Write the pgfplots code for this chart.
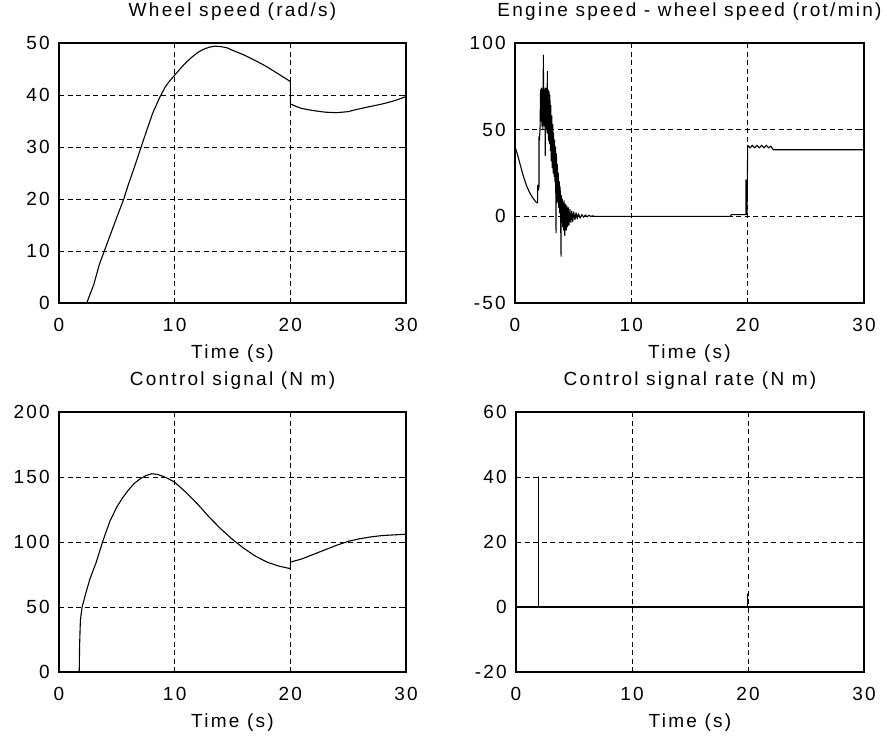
\documentclass[border=0pt]{standalone}
\usepackage{fontspec}
\setmainfont{Liberation Sans}[LetterSpace=12]
\usepackage{pgfplots}
\pgfplotsset{compat=1.18}

\pgfplotsset{matlab/.style={
  scale only axis, height=260pt,
  xmin=0, xmax=30, xtick={0,10,20,30},
  grid=major,
  major grid style={black, line width=0.9pt, dash pattern=on 5pt off 3.5pt},
  axis line style={black, line width=1.4pt},
  tick align=inside, major tick length=5pt,
  tick style={black, line width=1pt},
  /pgf/number format/assume math mode=true,
  every tick label/.append style={font=\fontsize{19}{22}\selectfont, inner sep=0pt},
  xticklabel style={anchor=base, yshift=-28pt},
  yticklabel style={anchor=east, xshift=-9pt},
  title style={font=\fontsize{19}{22}\selectfont, at={(0.5,1)}, anchor=base, inner sep=0pt, yshift=21pt},
  xlabel style={font=\fontsize{19}{22}\selectfont, at={(axis description cs:0.5,0)}, anchor=base, inner sep=0pt, yshift=-55pt},
  xlabel={Time (s)},
}}
\tikzset{curve/.style={black, mark=none, line width=1.1pt, line join=round}}

\begin{document}
\begin{tikzpicture}
\path[use as bounding box] (0,0) rectangle (887pt,-739pt);

% Top-left: wheel speed
\begin{axis}[matlab, width=347pt, at={(59pt,-303pt)}, anchor=south west,
  ymin=0, ymax=50, ytick={0,10,20,30,40,50},
  title={Wheel speed (rad/s)}]
\addplot[curve] coordinates {
(2.4,0) (2.6,1.2) (3.0,3.5) (3.5,7.5) (4.0,10.5) (4.5,13.5) (5.0,16.5)
(5.6,20) (6.0,22.8) (6.5,26) (7.1,30) (7.6,33.3) (8.1,36.5) (8.7,39.5)
(9.2,41.6) (9.6,42.8) (10.0,43.8) (10.5,45.1) (11.0,46.3) (11.5,47.3) (12.0,48.2)
(12.5,48.8) (13.0,49.2) (13.5,49.4) (14.0,49.3) (14.5,49.1) (15.0,48.6)
(16.0,47.7) (17.0,46.6) (18.0,45.4) (19.0,44.0) (20.0,42.6) (20.0,38.3)
(20.5,37.8) (21.0,37.4) (22.0,37.0) (23.0,36.7) (24.0,36.6) (25.0,36.8)
(25.5,37.1) (26.5,37.6) (28.0,38.3) (29.0,38.9) (30.0,39.7)
};
\end{axis}

% Top-right: engine speed - wheel speed
\begin{axis}[matlab, width=349pt, at={(515pt,-303pt)}, anchor=south west,
  ymin=-50, ymax=100, ytick={-50,0,50,100},
  title={Engine speed - wheel speed (rot/min)}]
\addplot[curve] coordinates {
(0,40) (0.2,36) (0.4,31) (0.6,26) (0.8,21.5) (1.0,17.5) (1.2,14.5) (1.4,12)
(1.6,10) (1.8,8.3) (1.95,7.7) (1.95,18) (2.0,15) (2.06,17) (2.06,46) (2.1,44)
(2.15,50) (2.2,73) (2.24,55) (2.28,74) (2.32,52) (2.36,73) (2.40,50) (2.44,93)
(2.46,55) (2.50,74) (2.54,52) (2.58,73) (2.60,35) (2.64,74) (2.68,50) (2.72,73)
(2.76,48) (2.78,83.5) (2.80,48) (2.84,73) (2.88,44) (2.92,72) (2.96,42) (3.0,70)
(3.04,38) (3.08,64) (3.12,32) (3.16,58) (3.20,28) (3.24,53) (3.28,25) (3.32,48)
(3.36,23) (3.40,44) (3.44,20) (3.48,40) (3.53,-9.5) (3.56,36) (3.60,11) (3.64,30)
(3.68,8) (3.72,25) (3.76,5) (3.80,20) (3.84,2) (3.88,17) (3.92,0) (3.96,-23)
(3.98,12) (4.02,-3) (4.06,10) (4.10,-6) (4.14,8) (4.18,-8) (4.22,9) (4.28,-11)
(4.34,7) (4.40,-8) (4.46,6) (4.52,-6) (4.58,5) (4.64,-5) (4.72,4) (4.80,-3.5)
(4.88,3) (4.96,-3) (5.05,2.5) (5.15,-2) (5.25,2) (5.35,-1.5) (5.45,1.5) (5.6,-1)
(5.75,1) (5.9,-0.5) (6.05,0.8) (6.2,-0.3) (6.35,0.6) (6.5,0) (6.7,0.3) (6.8,0)
(18.5,0) (18.6,1) (19.85,1) (19.85,21) (19.9,20) (19.95,1) (20.0,41) (20.2,39.5)
(20.4,41) (20.6,39.5) (20.8,41) (21.0,39.5) (21.2,41) (21.4,39.5) (21.6,41)
(21.8,39.5) (22.0,40.5) (22.2,38.4) (30,38.4)
};
\end{axis}

% Bottom-left: control signal
\begin{axis}[matlab, width=347pt, at={(59pt,-672pt)}, anchor=south west,
  ymin=0, ymax=200, ytick={0,50,100,150,200},
  title={Control signal (N m)}]
\addplot[curve] coordinates {
(1.75,0) (1.78,20) (1.85,40) (2.0,50) (2.3,60) (2.65,71) (3.2,84) (3.8,101)
(4.4,116) (5.0,127) (5.5,134) (6.0,140) (6.5,145) (7.0,148.5) (7.5,151)
(8.0,152.5) (8.5,152) (9.0,150.5) (9.5,148.5) (10.0,146) (11.0,138) (12.0,129)
(13.0,119) (14.0,110) (15.0,102) (16.0,95) (17.0,89) (18.0,84.5) (19.0,81.5)
(20.0,79.5) (20.0,84.5) (21.0,87) (22.0,90.5) (23.0,94) (24.0,97.5)
(25.0,100.5) (26.0,102.5) (27.0,104) (28.0,105) (29.0,105.5) (30.0,106)
};
\end{axis}

% Bottom-right: control signal rate
\begin{axis}[matlab, width=348pt, at={(516pt,-672pt)}, anchor=south west,
  ymin=-20, ymax=60, ytick={-20,0,20,40,60},
  title={Control signal rate (N m)}]
\addplot[curve] coordinates {
(0,0) (1.95,0) (1.95,40) (1.95,0) (19.98,0) (19.98,4) (19.98,0) (30,0)
};
\end{axis}
\end{tikzpicture}
\end{document}
